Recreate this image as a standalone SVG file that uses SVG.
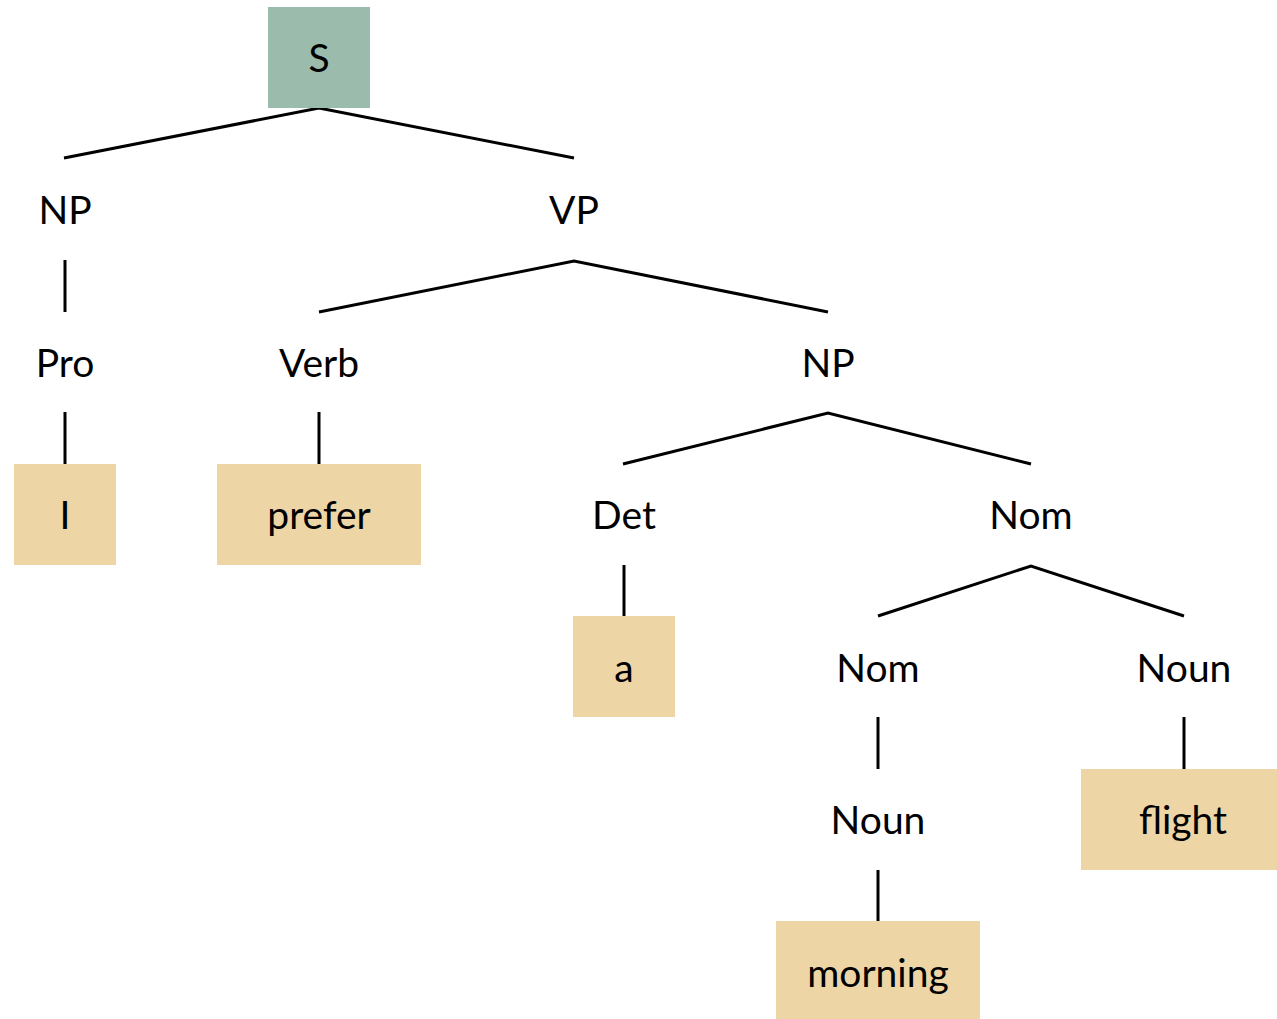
<svg xmlns="http://www.w3.org/2000/svg" width="1277" height="1019" viewBox="0 0 1277 1019">
<style>
text{font-family:"Lato","Open Sans","Liberation Sans",sans-serif;font-size:39px;fill:#000;text-anchor:middle}
.t{fill:#edd5a6}
.s{fill:#9bbcad}
#edges line,#edges polyline{stroke:#000;stroke-width:3;fill:none}
</style>
<rect width="1277" height="1019" fill="#fff"/>
<g id="edges">
<polyline points="64,158 319,108 574,158"/>
<line x1="65" y1="260" x2="65" y2="312"/>
<polyline points="319,312 574,261 828,312"/>
<line x1="65" y1="412" x2="65" y2="464"/>
<line x1="319" y1="412" x2="319" y2="464"/>
<polyline points="623,464 828,413 1031,464"/>
<line x1="624" y1="565" x2="624" y2="616"/>
<polyline points="878,616 1031,566 1184,616"/>
<line x1="878" y1="717" x2="878" y2="769"/>
<line x1="1184" y1="717" x2="1184" y2="769"/>
<line x1="878" y1="870" x2="878" y2="921"/>
</g>
<g id="S"><rect class="s" x="268" y="7" width="102" height="101"/><text x="319" y="72">S</text></g>
<g id="NP1"><text x="65" y="224">NP</text></g>
<g id="VP"><text x="574" y="224">VP</text></g>
<g id="Pro"><text x="65" y="377">Pro</text></g>
<g id="Verb"><text x="319" y="377">Verb</text></g>
<g id="NP2"><text x="828" y="377">NP</text></g>
<g id="I"><rect class="t" x="14" y="464" width="102" height="101"/><text x="65" y="529">I</text></g>
<g id="prefer"><rect class="t" x="217" y="464" width="204" height="101"/><text x="319" y="529">prefer</text></g>
<g id="Det"><text x="624" y="529">Det</text></g>
<g id="Nom1"><text x="1031" y="529">Nom</text></g>
<g id="a"><rect class="t" x="573" y="616" width="102" height="101"/><text x="624" y="682">a</text></g>
<g id="Nom2"><text x="878" y="682">Nom</text></g>
<g id="Noun1"><text x="1184" y="682">Noun</text></g>
<g id="Noun2"><text x="878" y="834">Noun</text></g>
<g id="flight"><rect class="t" x="1081" y="769" width="196" height="101"/><text x="1183" y="834">flight</text></g>
<g id="morning"><rect class="t" x="776" y="921" width="204" height="98"/><text x="878" y="987">morning</text></g>
</svg>
